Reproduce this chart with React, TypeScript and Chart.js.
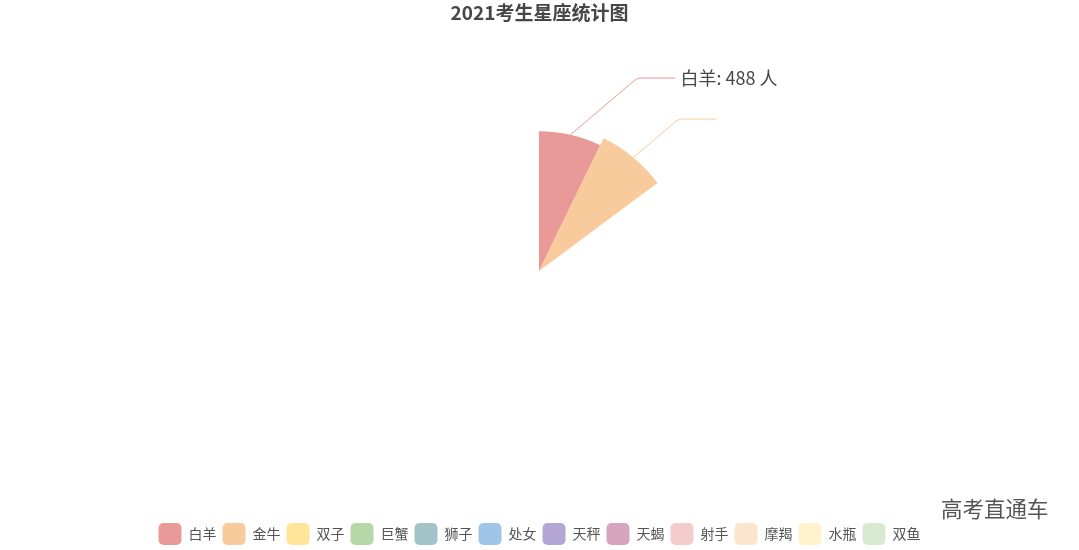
import { useEffect, useRef } from 'react';
import { Chart, registerables } from 'chart.js';

Chart.register(...registerables);

const signs = ['白羊', '金牛', '双子', '巨蟹', '狮子', '处女', '天秤', '天蝎', '射手', '摩羯', '水瓶', '双鱼'];
// only the first two sectors had been drawn when the picture was taken
const counts: (number | null)[] = [488, 515, null, null, null, null, null, null, null, null, null, null];
const totalStudents = 6760;
const labelledSigns = ['白羊'];
const colors = [
  '#ea9999', '#f9cb9c', '#ffe599', '#b6d7a8', '#a2c4c9', '#9fc5e8',
  '#b4a7d6', '#d5a6bd', '#f4cccc', '#fce5cd', '#fff2cc', '#d9ead3',
];

const FONT = "'Noto Sans CJK SC', 'Noto Sans', sans-serif";

const labelLinePlugin = {
  id: 'labelLines',
  afterDatasetsDraw(chart: any) {
    const ctx = chart.ctx;
    const meta = chart.getDatasetMeta(0);
    let row = 0;
    meta.data.forEach((arc: any, i: number) => {
      const v = counts[i];
      if (v == null || !isFinite(arc.outerRadius)) return;
      const mid = (arc.startAngle + arc.endAngle) / 2;
      const sx = arc.x + Math.cos(mid) * arc.outerRadius;
      const sy = arc.y + Math.sin(mid) * arc.outerRadius;
      const ly = 78 + row * 41;
      const ex = sx + 1.18 * (sy - ly);
      const tx = ex + 38;
      ctx.save();
      ctx.strokeStyle = colors[i];
      ctx.lineWidth = 1;
      ctx.beginPath();
      ctx.moveTo(sx, sy);
      ctx.arcTo(ex, ly, tx, ly, 10);
      ctx.lineTo(tx, ly);
      ctx.stroke();
      if (labelledSigns.includes(signs[i])) {
        ctx.fillStyle = '#464646';
        ctx.font = `18px ${FONT}`;
        ctx.textBaseline = 'middle';
        ctx.textAlign = 'left';
        ctx.fillText(`${signs[i]}: ${v} 人`, tx + 5, ly);
      }
      ctx.restore();
      row++;
    });
  },
};

export default function App() {
  const canvasRef = useRef<HTMLCanvasElement>(null);

  useEffect(() => {
    if (!canvasRef.current) return;
    const baseLabels = (Chart as any).overrides.polarArea.plugins.legend.labels.generateLabels;
    const chart = new Chart(canvasRef.current, {
      type: 'polarArea',
      data: {
        labels: signs,
        datasets: [
          {
            data: counts,
            backgroundColor: colors,
            borderWidth: 0,
            angle: (c: any) => {
              const v = counts[c.dataIndex];
              return v ? (v / totalStudents) * 360 : 0;
            },
          } as any,
        ],
      },
      options: {
        animation: false,
        responsive: true,
        maintainAspectRatio: false,
        layout: { padding: 0 },
        scales: {
          r: {
            display: false,
            min: 0,
            max: 855,
          },
        },
        plugins: {
          title: {
            display: true,
            text: '2021考生星座统计图',
            color: '#464646',
            font: { size: 19, weight: 'bold', family: FONT },
            padding: { top: 1, bottom: 3 },
          },
          legend: {
            position: 'bottom',
            maxHeight: 33,
            labels: {
              boxWidth: 23,
              boxHeight: 22,
              useBorderRadius: true,
              borderRadius: 5,
              padding: 6,
              color: '#555',
              font: { size: 14, family: FONT },
              generateLabels: (c: any) =>
                baseLabels(c).map((item: any) => ({ ...item, borderRadius: 5, lineWidth: 0 })),
            },
          },
          tooltip: { enabled: false },
        },
      },
      plugins: [labelLinePlugin],
    });
    return () => chart.destroy();
  }, []);

  return (
    <div style={{ position: 'absolute', left: 0, top: 0, width: 1079, height: 550, background: '#fff', overflow: 'hidden' }}>
      <canvas ref={canvasRef}></canvas>
      <div
        style={{
          position: 'absolute',
          left: 941,
          top: 492,
          fontFamily: FONT,
          fontSize: 21.5,
          color: '#555',
          whiteSpace: 'nowrap',
        }}
      >
        高考直通车
      </div>
    </div>
  );
}
